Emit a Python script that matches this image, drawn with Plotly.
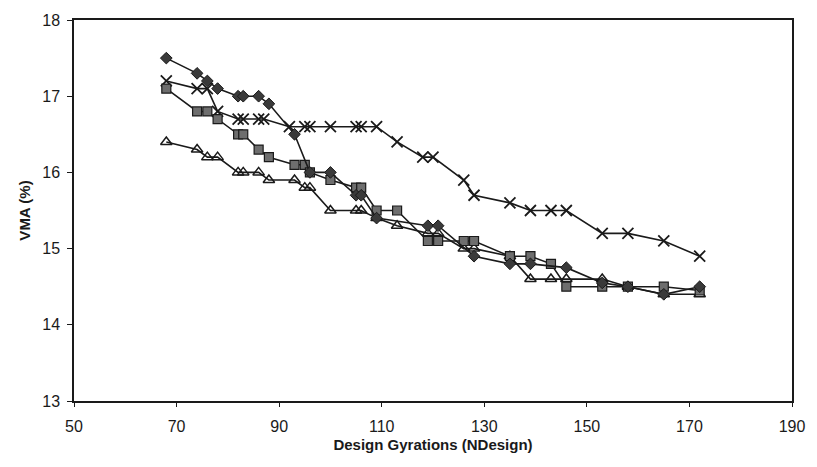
import plotly.graph_objects as go

# Series data (Design Gyrations vs VMA %)
x_diamond = [68, 74, 76, 78, 82, 83, 86, 88, 93, 96, 100, 105, 106, 109, 119, 121, 128, 135, 139, 146, 153, 158, 165, 172]
y_diamond = [17.5, 17.3, 17.2, 17.1, 17.0, 17.0, 17.0, 16.9, 16.5, 16.0, 16.0, 15.7, 15.7, 15.4, 15.3, 15.3, 14.9, 14.8, 14.8, 14.75, 14.55, 14.5, 14.4, 14.5]

x_cross = [68, 74, 76, 78, 82, 83, 86, 87, 92, 95, 96, 100, 105, 106, 109, 113, 118, 120, 126, 128, 135, 139, 143, 146, 153, 158, 165, 172]
y_cross = [17.2, 17.1, 17.1, 16.8, 16.7, 16.7, 16.7, 16.7, 16.6, 16.6, 16.6, 16.6, 16.6, 16.6, 16.6, 16.4, 16.2, 16.2, 15.9, 15.7, 15.6, 15.5, 15.5, 15.5, 15.2, 15.2, 15.1, 14.9]

x_square = [68, 74, 76, 78, 82, 83, 86, 88, 93, 95, 96, 100, 105, 106, 109, 113, 119, 121, 126, 128, 135, 139, 143, 146, 153, 158, 165, 172]
y_square = [17.1, 16.8, 16.8, 16.7, 16.5, 16.5, 16.3, 16.2, 16.1, 16.1, 16.0, 15.9, 15.8, 15.8, 15.5, 15.5, 15.1, 15.1, 15.1, 15.1, 14.9, 14.9, 14.8, 14.5, 14.5, 14.5, 14.5, 14.45]

x_triangle = [68, 74, 76, 78, 82, 83, 86, 88, 93, 95, 96, 100, 105, 106, 109, 113, 119, 121, 126, 128, 135, 139, 143, 146, 153, 158, 165, 172]
y_triangle = [16.4, 16.3, 16.2, 16.2, 16.0, 16.0, 16.0, 15.9, 15.9, 15.8, 15.8, 15.5, 15.5, 15.5, 15.4, 15.3, 15.2, 15.2, 15.0, 15.0, 14.9, 14.6, 14.6, 14.6, 14.6, 14.5, 14.4, 14.4]

x_ticks = [50, 70, 90, 110, 130, 150, 170, 190]
y_ticks = [13, 14, 15, 16, 17, 18]

line_style = dict(color="#1a1a1a", width=1.6)

fig = go.Figure()
fig.add_trace(go.Scatter(
    x=x_triangle, y=y_triangle, mode="lines+markers", line=line_style,
    marker=dict(symbol="triangle-up-open", size=10, color="#1a1a1a", line=dict(width=1.5, color="#1a1a1a")),
    showlegend=False))
fig.add_trace(go.Scatter(
    x=x_cross, y=y_cross, mode="lines+markers", line=line_style,
    marker=dict(symbol="x-thin-open", size=11, color="#1a1a1a", line=dict(width=1.8, color="#1a1a1a")),
    showlegend=False))
fig.add_trace(go.Scatter(
    x=x_square, y=y_square, mode="lines+markers", line=line_style,
    marker=dict(symbol="square", size=9, color="#6e6e6e", line=dict(width=1.2, color="#1a1a1a")),
    showlegend=False))
fig.add_trace(go.Scatter(
    x=x_diamond, y=y_diamond, mode="lines+markers", line=line_style,
    marker=dict(symbol="diamond", size=9, color="#3a3a3a", line=dict(width=1, color="#1a1a1a")),
    showlegend=False))

fig.update_layout(
    width=817, height=467,
    margin=dict(l=74, r=15, t=16, b=66),
    paper_bgcolor="white", plot_bgcolor="white",
    font=dict(family="Liberation Sans, Arial, sans-serif", size=16, color="#1a1a1a"),
)
fig.update_xaxes(
    range=[50, 190], tickvals=x_ticks, ticktext=[str(v) for v in x_ticks],
    showgrid=False, zeroline=False, showline=True, linecolor="#1a1a1a", linewidth=1.5, mirror=True,
    ticks="outside", ticklen=4, tickcolor="#1a1a1a", ticklabelstandoff=6,
    tickfont=dict(size=16),
    title=dict(text="<b>Design Gyrations (NDesign)</b>", font=dict(size=15), standoff=6),
)
fig.update_yaxes(
    range=[13, 18], tickvals=y_ticks, ticktext=[str(v) for v in y_ticks],
    showgrid=False, zeroline=False, showline=True, linecolor="#1a1a1a", linewidth=1.5, mirror=True,
    ticks="outside", ticklen=5, tickcolor="#1a1a1a", ticklabelstandoff=4,
    tickfont=dict(size=16),
    title=dict(text="<b>VMA (%)</b>", font=dict(size=15), standoff=8),
)

fig.write_html("out.html")
